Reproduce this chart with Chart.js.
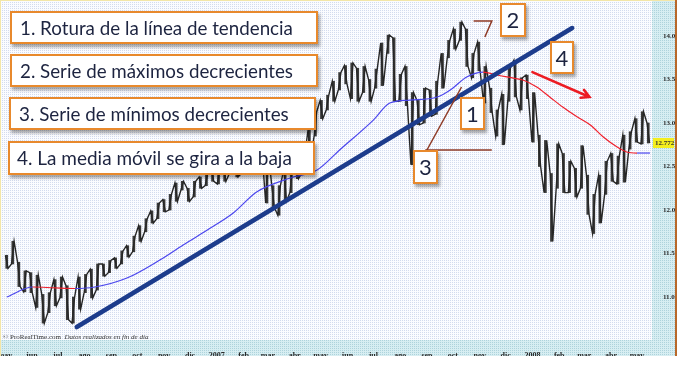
<!DOCTYPE html>
<html><head><meta charset="utf-8">
<script src="https://cdn.jsdelivr.net/npm/chart.js@4.4.1/dist/chart.umd.min.js"></script>
<style>
html,body{margin:0;padding:0;background:#fff;width:683px;height:384px;overflow:hidden;}
#wrap{position:relative;width:683px;height:384px;}
canvas{position:absolute;left:0;top:0;}
.tb{position:absolute;background:#fff;border:2px solid #e8892c;box-shadow:2px 3px 3px rgba(0,0,0,0.35);box-sizing:border-box;font-family:Lato,'Open Sans',sans-serif;color:#1d2440;white-space:nowrap;}
.tb span{position:absolute;top:50%;transform:translateY(-52%);font-size:18px;}
.nb{position:absolute;background:#fff;border:2px solid #e8892c;box-shadow:2px 3px 3px rgba(0,0,0,0.35);box-sizing:border-box;font-family:Lato,'Open Sans',sans-serif;color:#1d2440;font-size:22px;text-align:center;}
.copy{position:absolute;left:3px;top:333px;font-family:'Liberation Serif',serif;font-size:7px;color:#333;white-space:nowrap;}
</style></head>
<body><div id="wrap">
<canvas id="c" width="683" height="384"></canvas>
<div class="tb" style="left:10px;top:11px;width:308px;height:33px"><span data-w="273" style="left:8px">1. Rotura de la línea de tendencia</span></div>
<div class="tb" style="left:10px;top:54px;width:308px;height:33px"><span data-w="273" style="left:8px">2. Serie de máximos decrecientes</span></div>
<div class="tb" style="left:9px;top:97px;width:307px;height:33px"><span data-w="270" style="left:8px">3. Serie de mínimos decrecientes</span></div>
<div class="tb" style="left:8px;top:141px;width:307px;height:34px"><span data-w="275" style="left:7px">4. La media móvil se gira a la baja</span></div>
<div class="nb" style="left:500px;top:3px;width:26px;height:34px;line-height:30px">2</div>
<div class="nb" style="left:550px;top:41px;width:24px;height:33px;line-height:29px">4</div>
<div class="nb" style="left:460px;top:97px;width:25px;height:33px;line-height:29px">1</div>
<div class="nb" style="left:413px;top:150px;width:25px;height:34px;line-height:30px">3</div>
<div class="copy">© ProRealTime.com &nbsp;<i>Datos realizados en fin de día</i></div>
</div>
<script>
// ---- data ----
const weeks = [
'2006-05-01','2006-05-08','2006-05-15','2006-05-22','2006-05-29','2006-06-05','2006-06-12','2006-06-19','2006-06-26',
'2006-07-03','2006-07-10','2006-07-17','2006-07-24','2006-07-31','2006-08-07','2006-08-14','2006-08-21','2006-08-28',
'2006-09-04','2006-09-11','2006-09-18','2006-09-25','2006-10-02','2006-10-09','2006-10-16','2006-10-23','2006-10-30',
'2006-11-06','2006-11-13','2006-11-20','2006-11-27','2006-12-04','2006-12-11','2006-12-18','2006-12-25',
'2007-01-01','2007-01-08','2007-01-15','2007-01-22','2007-01-29','2007-02-05','2007-02-12','2007-02-19','2007-02-26',
'2007-03-05','2007-03-12','2007-03-19','2007-03-26','2007-04-02','2007-04-09','2007-04-16','2007-04-23','2007-04-30',
'2007-05-07','2007-05-14','2007-05-21','2007-05-28','2007-06-04','2007-06-11','2007-06-18','2007-06-25',
'2007-07-02','2007-07-09','2007-07-16','2007-07-23','2007-07-30','2007-08-06','2007-08-13','2007-08-20','2007-08-27',
'2007-09-03','2007-09-10','2007-09-17','2007-09-24','2007-10-01','2007-10-08','2007-10-15','2007-10-22','2007-10-29',
'2007-11-05','2007-11-12','2007-11-19','2007-11-26','2007-12-03','2007-12-10','2007-12-17','2007-12-24','2007-12-31',
'2008-01-07','2008-01-14','2008-01-21','2008-01-28','2008-02-04','2008-02-11','2008-02-18','2008-02-25',
'2008-03-03','2008-03-10','2008-03-17','2008-03-24','2008-03-31','2008-04-07','2008-04-14','2008-04-21','2008-04-28',
'2008-05-05','2008-05-12'];
const weeklyHigh = [
11480,11640,11400,11300,11280,11250,11030,11050,11200,
11230,11130,11000,11230,11260,11320,11380,11380,11420,
11450,11530,11590,11700,11820,11900,11990,12080,12120,
12180,12310,12330,12250,12330,12380,12420,12470,
12480,12500,12560,12560,12630,12650,12760,12760,12680,
12280,12280,12470,12480,12570,12620,12920,13130,13260,
13320,13480,13580,13660,13690,13630,13650,13500,
13620,13920,14010,13980,13560,13650,13350,13260,13400,
13380,13480,13800,13950,14080,14160,14080,13800,13930,
13650,13400,13150,13330,13630,13720,13520,13550,13350,
12860,12800,12420,12760,12650,12560,12480,12740,
12400,12180,12400,12560,12650,12620,12860,12900,13050,
13130,13000];
const weeklyLow = [
11330,11380,11120,11060,11050,10880,10700,10820,10900,
10990,10740,10700,10860,11050,10990,11080,11240,11280,
11330,11380,11460,11520,11640,11750,11850,11900,11980,
12000,12100,12230,12100,12150,12250,12280,12330,
12300,12330,12420,12380,12420,12520,12500,12630,12080,
12030,11940,12100,12200,12360,12430,12580,12850,13050,
13150,13250,13380,13450,13280,13250,13350,13250,
13400,13430,13800,13250,13250,13200,12520,12980,13000,
13080,13100,13400,13750,13850,13950,13650,13520,13600,
13230,13120,12850,12750,13250,13300,13150,13280,12780,
12500,12200,11640,12250,12200,12200,12150,12250,
11950,11730,11850,12180,12330,12300,12320,12700,12780,
12760,12770];
const maDates = ['2006-05-03','2006-06-02','2006-06-28','2006-07-21','2006-08-13','2006-09-19','2006-10-27','2006-11-23',
'2006-12-21','2007-01-20','2007-02-16','2007-03-27','2007-04-27','2007-05-23','2007-07-01','2007-07-20','2007-08-12',
'2007-09-13','2007-09-28','2007-10-17','2007-11-05','2007-11-21','2007-12-10','2007-12-21','2008-01-06','2008-01-21',
'2008-02-05','2008-02-22','2008-03-08','2008-03-23','2008-04-08','2008-04-19','2008-05-01','2008-05-16'];
const maValues = [11000,11115,11105,11098,11115,11218,11425,11598,11770,11965,12207,12368,12460,12690,13034,13230,13264,
13299,13379,13529,13586,13552,13517,13494,13414,13299,13184,13069,12977,12839,12724,12667,12655,12655];
const trendDates = ['2006-07-23','2008-02-16'];
const trendValues = [10655,14092];
const monthStarts = ['2006-05-01','2006-06-01','2006-07-01','2006-08-01','2006-09-01','2006-10-01','2006-11-01','2006-12-01',
'2007-01-01','2007-02-01','2007-03-01','2007-04-01','2007-05-01','2007-06-01','2007-07-01','2007-08-01','2007-09-01',
'2007-10-01','2007-11-01','2007-12-01','2008-01-01','2008-02-01','2008-03-01','2008-04-01','2008-05-01'];
const monthLabels = ['may','jun','jul','ago','sep','oct','nov','dic','2007','feb','mar','abr','may','jun','jul','ago','sep',
'oct','nov','dic','2008','feb','mar','abr','may'];
const yTicks = [11000,11500,12000,12500,13000,13500,14000];
const lastPrice = 12772;
// annotation guides (date, value)
const guide2 = [['2007-10-25',14172],['2007-11-15',14172],['2007-11-07',13989]];
const guide3a = [['2007-08-30',12690],['2007-11-15',12690]];
const guide3b = [['2007-09-01',12690],['2007-10-11',13414]];
const arrow4 = [['2008-01-01',13586],['2008-03-07',13299]];

// ---- helpers ----
const base = Date.UTC(2006,4,1);
const dayNum = s => { const [y,m,d] = s.split('-').map(Number); return (Date.UTC(y,m-1,d)-base)/86400000; };
const fmt = v => String(v).replace(/\B(?=(\d{3})+(?!\d))/g,'.');
function pat(ctx, bg, dot){ const c=document.createElement('canvas'); c.width=2; c.height=2; const g=c.getContext('2d');
  g.fillStyle=bg; g.fillRect(0,0,2,2); g.fillStyle=dot; g.fillRect(0,0,1,1); return ctx.createPattern(c,'repeat'); }

const BLUE='#4b46ee', RED='#f0202c';

const decor = {
  id:'decor',
  beforeDraw(chart){
    const {ctx, chartArea:ca} = chart;
    const right = chart.width - 7, bottom = ca.bottom + 16;
    ctx.save();
    ctx.fillStyle = pat(ctx,'#fbfcff','#d3dbee'); ctx.fillRect(0,0,ca.right,ca.bottom);
    const p2 = pat(ctx,'#d7eef2','#aed3dc');
    ctx.fillStyle = p2; ctx.fillRect(ca.right,0,right-ca.right,bottom); ctx.fillRect(0,ca.bottom,ca.right,bottom-ca.bottom);
    ctx.restore();
  },
  afterDatasetsDraw(chart){
    const {ctx, scales:{x,y}} = chart;
    const P = ([d,v]) => [x.getPixelForValue(dayNum(d)), y.getPixelForValue(v)];
    ctx.save();
    ctx.strokeStyle='#8e3a26'; ctx.lineWidth=1.5;
    [guide2, guide3a, guide3b].forEach(g=>{ ctx.beginPath(); g.forEach((pt,i)=>{ const [px,py]=P(pt); i?ctx.lineTo(px,py):ctx.moveTo(px,py); }); ctx.stroke(); });
    const [a,b] = arrow4.map(P);
    ctx.strokeStyle='#ec1c24'; ctx.lineWidth=2.5; ctx.lineCap='round';
    ctx.beginPath(); ctx.moveTo(a[0],a[1]); ctx.lineTo(b[0],b[1]);
    const ang = Math.atan2(b[1]-a[1], b[0]-a[0]);
    ctx.moveTo(b[0]-9*Math.cos(ang-0.5), b[1]-9*Math.sin(ang-0.5)); ctx.lineTo(b[0],b[1]);
    ctx.lineTo(b[0]-9*Math.cos(ang+0.5), b[1]-9*Math.sin(ang+0.5));
    ctx.stroke();
    ctx.restore();
  },
  afterDraw(chart){
    const {ctx, chartArea:ca, scales:{y}} = chart;
    const right = chart.width - 7, bottom = ca.bottom + 16;
    ctx.save();
    const py = Math.round(y.getPixelForValue(lastPrice));
    ctx.fillStyle='#f4ee1e'; ctx.fillRect(ca.right+1, py-5, right-ca.right-3, 10);
    ctx.fillStyle='#333'; ctx.font='bold 7px "Liberation Serif"'; ctx.textBaseline='middle'; ctx.textAlign='left';
    ctx.fillText(fmt(lastPrice), ca.right+3, py);
    ctx.fillStyle='#f3e6a8'; ctx.fillRect(0,0,1,bottom); ctx.fillRect(0,0,right,1);
    ctx.fillStyle='#b8682a'; ctx.fillRect(right-1,0,2,bottom);
    ctx.restore();
  }
};

const barData = weeks.map((d,i)=>({x: dayNum(d)+2, y:[weeklyLow[i], weeklyHigh[i]]}));
// path through each weekly range, so the dense daily bars read as one ragged line
const pathData = [];
weeks.forEach((d,i)=>{
  const first = i%2 ? weeklyLow[i] : weeklyHigh[i], second = i%2 ? weeklyHigh[i] : weeklyLow[i];
  pathData.push({x: dayNum(d)+0.5, y:first}, {x: dayNum(d)+3.5, y:second});
});
const maData = maDates.map((d,i)=>({x: dayNum(d), y: maValues[i]}));
const trendData = trendDates.map((d,i)=>({x: dayNum(d), y: trendValues[i]}));

new Chart(document.getElementById('c'), {
  type:'bar',
  data:{ datasets:[
    {type:'line', data:trendData, borderColor:'#1d3c8c', borderWidth:4.5, pointRadius:0, borderCapStyle:'round', order:0},
    {type:'line', data:maData, borderColor:BLUE, borderWidth:1.2, pointRadius:0, cubicInterpolationMode:'monotone',
      segment:{borderColor: c => c.p1.parsed.y < c.p0.parsed.y ? RED : BLUE}, order:1},
    {type:'line', data:pathData, borderColor:'#262626', borderWidth:1.4, pointRadius:0, tension:0, order:2},
    {type:'bar', data:barData, backgroundColor:'#3a3a3a', barThickness:2, grouped:false, borderWidth:0, order:3}
  ]},
  options:{
    responsive:false, animation:false, devicePixelRatio:1,
    layout:{padding:{left:0, top:2, right:7, bottom:28}},
    plugins:{legend:{display:false}, tooltip:{enabled:false}},
    scales:{
      x:{type:'linear', min:-5.8, max:748.3, bounds:'data', offset:false, position:'bottom',
        grid:{display:false, offset:false}, border:{display:false},
        ticks:{autoSkip:false, maxRotation:0, padding:3, color:'#2a2a2a', font:{family:'Liberation Serif', size:8, weight:'bold'},
          callback:(v,i)=>monthLabels[i]},
        afterBuildTicks:s=>{ s.ticks = monthStarts.map(d=>({value:dayNum(d)})); },
        afterFit:s=>{ s.height=16; s.paddingLeft=0; s.paddingRight=0; }},
      y:{type:'linear', position:'right', min:10506, max:14391, bounds:'data',
        grid:{display:false}, border:{display:false},
        ticks:{padding:3, color:'#2a2a2a', font:{family:'Liberation Serif', size:7, weight:'bold'}, callback:v=>fmt(v)},
        afterBuildTicks:s=>{ s.ticks = yTicks.map(v=>({value:v})); },
        afterFit:s=>{ s.width=24; s.paddingTop=0; s.paddingBottom=0; }}
    }
  },
  plugins:[decor]
});

// fit annotation text to the widths seen in the reference
document.querySelectorAll('.tb span').forEach(sp=>{
  const w = +sp.dataset.w; const cur = sp.getBoundingClientRect().width;
  sp.style.fontSize = (18*w/cur).toFixed(2)+'px';
});
</script>
</body></html>
